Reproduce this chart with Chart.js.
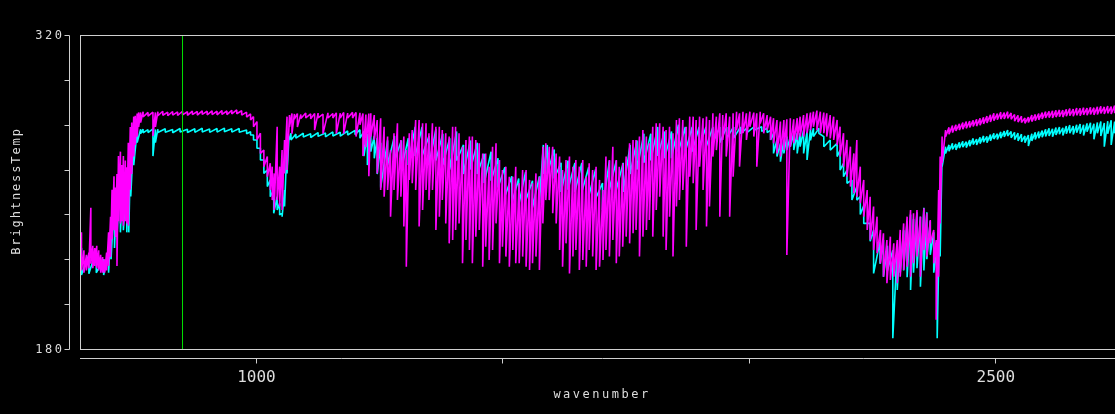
<!DOCTYPE html>
<html><head><meta charset="utf-8">
<script src="https://cdn.jsdelivr.net/npm/chart.js@4.4.1/dist/chart.umd.min.js"></script>
<style>
html,body{margin:0;padding:0;background:#000;overflow:hidden;width:1115px;height:414px}
#wrap{width:1125px;height:414px}
canvas{display:block}
</style></head><body>
<div id="wrap"><canvas id="c" width="1125" height="414"></canvas></div>
<script>
// ---- labels / ticks ----
const xTitle = 'wavenumber';
const yTitle = 'BrightnessTemp';
const yTicks = [180, 200, 220, 240, 260, 280, 300, 320];
const yTickLabels = ['180', '', '', '', '', '', '', '320'];
const xTicks = [1000, 1500, 2000, 2500];
const xTickLabels = ['1000', '', '', '2500'];
const xRange = [642, 2760];
const yRange = [180, 320];
const markerWn = [850, 850];
const markerT = [180, 320];

// ---- magenta spectrum: wavenumber, upper and lower envelope per bin ----
const magWn = [
 645,650,655,660,664,668,672,676,680,684,688,692,696,
 700,704,707,711,714,717,720,724,727,730,734,737,740,744,747,751,754,758,761,765,
 770,780,790,795,800,810,820,830,840,850,860,870,880,890,900,910,920,930,940,950,960,970,980,
 988,994,1001,1008,1015,1022,1028,1032,1036,1042,1047,1052,1057,1062,1067,
 1072,1077,1083,1090,1100,1110,1118,1125,1135,1145,1155,1162,1170,1177,1185,1195,1202,1210,1216,1222,1228,
 1232,1239,1245,1252,1259,1266,1272,1279,1286,1293,1299,1304,
 1310,1316,1323,1330,1337,1344,1350,1357,1364,1371,1377,1384,
 1391,1398,1404,1411,1418,1425,1432,1438,1445,1452,1459,1465,
 1472,1479,1486,1493,1499,1506,1513,1520,1526,1533,1540,1547,
 1554,1560,1567,1574,1581,1587,1594,1601,1608,1615,1621,1628,
 1635,1642,1648,1655,1662,1669,1675,1682,1689,1696,1703,1709,
 1716,1723,1730,1736,1743,1750,1757,1764,1770,1777,1784,1791,
 1797,1804,1811,1818,1825,1831,1838,1845,1852,1858,1865,1872,
 1879,1886,1892,1899,1906,1913,1919,1926,1933,1940,1946,1953,
 1960,1967,1974,1980,1987,1994,2001,
 2009,2015,2022,2029,2036,2043,2049,2056,2063,2070,2076,2083,
 2090,2097,2103,2110,2117,2124,2130,2137,2144,2151,2157,2164,
 2171,2178,2184,2191,2198,2205,2212,2218,2225,2232,2239,2245,
 2252,2259,2266,2272,2279,2286,2293,2300,2306,2313,2320,2327,
 2333,2340,2347,2354,2360,2367,2374,2379,2384,2387,2391,2398,
 2405,2412,2419,2426,2433,2440,2447,2454,2461,2468,2475,2482,
 2489,2496,2503,2510,2517,2524,2531,2538,2545,2552,2559,2566,
 2573,2580,2587,2594,2601,2608,2615,2622,2629,2636,2643,2650,
 2657,2664,2671,2678,2685,2692,2699,2706,2713,2720,2727,2734,
 2741,2748,2755,2760
];
const magHi = [
 232,224,222,223,243,226,225,226,224,222,221,220,223,
 232,239,251,257,252,258,266,268,262,266,264,261,272,279,281,283.6,284,285,285.5,285.5,
 285.8,285.5,285.6,285.5,285.8,286.0,285.6,285.9,285.7,286.0,285.8,286.1,285.9,286.2,286.0,286.2,286.0,286.3,286.1,286.4,286.6,286.2,285.6,
 284.8,283.6,281.4,276.2,268.7,265.8,262.8,261.3,258.3,279.1,261.3,268.7,273.2,283.6,284.3,
 285.0,284.8,285.0,284.6,285.2,284.8,285.0,285.2,284.7,285.3,285.0,285.3,285.1,285.5,285.2,285.5,285.5,285.3,285.0,284.5,285.0,
 285.1,284.3,282.1,282.9,279.1,274.7,268.7,276.2,280.6,273.2,274.7,268.7,
 276.2,277.6,282.1,282.1,280.6,280.6,276.2,280.6,279.1,279.1,277.6,276.2,
 274.7,279.1,279.1,276.2,270.2,273.2,274.7,274.7,273.2,271.7,267.2,267.2,
 261.3,270.2,271.7,264.3,259.8,261.3,256.8,256.8,261.3,253.9,259.8,259.8,
 255.4,253.9,258.3,256.8,270.2,271.7,270.2,270.2,267.2,265.8,259.8,264.3,
 265.8,261.3,264.3,261.3,264.3,256.8,262.8,259.8,261.3,255.4,250.9,265.8,
 264.3,270.2,264.3,261.3,262.8,265.8,271.7,273.2,273.2,274.7,277.6,274.7,
 271.7,279.1,280.6,280.6,279.1,277.6,279.1,276.2,282.1,282.9,282.1,279.1,
 283.6,283.6,282.1,283.6,282.9,283.6,282.1,285.1,283.6,285.1,284.3,285.1,
 283.6,285.1,285.8,285.1,285.8,285.1,285.8,
 285.4,285.1,285.8,285.1,284.3,283.6,282.9,282.1,281.4,282.1,282.4,282.9,
 282.4,282.9,283.6,284.3,285.1,285.4,285.8,286.3,285.8,285.4,285.1,284.3,
 283.6,282.1,279.1,276.2,273.2,270.2,267.2,273.2,261.3,255.4,250.9,247.9,
 243.5,239.0,233.1,231.6,228.6,230.1,227.1,228.6,233.1,236.0,239.0,242.0,
 240.5,242.0,239.0,242.7,240.5,237.5,233.1,228.6,250.9,265.8,274.7,277.6,
 278.8,279.6,280.0,280.4,281.0,281.4,281.6,282.0,282.4,282.9,283.3,283.8,
 284.4,285.1,285.0,285.6,285.4,285.8,285.2,284.6,284.2,283.8,283.0,283.4,
 284.3,284.6,285.0,285.4,285.8,286.0,286.2,286.4,286.6,286.5,286.9,287.2,
 287.0,287.4,287.3,287.6,287.4,287.8,287.6,288.0,288.2,287.9,288.3,288.1,
 288.5,288.3,288.6,288.4
];
const magLo = [
 215,214,215,216,218,216,217,216,215,214,214,214,215,
 217,221,229,233,230,217,237,236,237,235,237,236,235,251,258,265.8,271,274.7,279,281,
 283.5,283.8,275,279,284,284.2,284.0,284.3,284.1,284.4,284.2,284.5,284.3,284.6,284.4,284.5,284.4,284.6,284.5,284.8,284.9,284.3,283.4,
 282.1,279.1,273.2,267.2,261.3,256.8,250.9,246.4,242.0,246.4,243.5,242.0,258.3,259.8,279.1,
 276.0,282.5,279.0,282.8,283.0,282.6,277.6,283.0,276.0,283.0,283.0,276.0,283.0,276.0,283.0,283.0,274.7,280.0,266.0,270.0,257.0,
 274.7,273.2,258.3,250.9,247.9,250.9,239.0,250.9,246.4,247.9,234.6,216.7,
 255.4,253.9,250.9,234.6,242.0,250.9,246.4,250.9,233.1,239.0,246.4,236.0,
 227.1,228.6,233.1,236.0,218.2,228.6,224.1,218.2,230.1,233.1,216.7,225.6,
 219.7,224.1,236.0,218.2,225.6,221.2,216.7,224.1,218.2,218.2,221.2,216.7,
 215.2,218.2,221.2,215.2,236.0,246.4,246.4,240.5,236.0,224.1,216.7,227.1,
 213.7,221.2,224.1,215.2,219.7,216.7,224.1,221.2,215.2,216.7,219.7,224.1,
 221.2,228.6,218.2,221.2,225.6,230.1,227.1,231.6,233.1,221.2,230.1,233.1,
 237.5,230.1,242.0,247.9,230.1,224.1,239.0,221.2,243.5,246.4,250.9,225.6,
 256.8,253.9,233.1,261.3,250.9,234.6,243.5,265.8,268.7,239.0,273.2,265.8,
 239.0,256.8,277.6,261.3,276.2,273.2,279.1,
 274.7,261.3,280.6,276.2,277.6,273.2,271.7,267.2,265.8,268.7,221.9,270.2,
 271.7,273.2,274.7,274.7,276.2,277.6,279.1,277.6,276.2,276.2,274.7,273.9,
 273.2,271.0,265.8,261.3,256.8,252.4,249.4,247.9,245.0,239.0,233.1,228.6,
 224.1,222.7,218.2,212.2,209.3,210.8,212.2,209.3,212.2,215.2,216.7,212.2,
 218.2,221.2,212.2,224.1,221.2,227.1,218.2,193.0,212.2,236.0,263.0,274.7,
 275.8,276.5,277.2,277.6,278.0,278.4,278.8,279.2,279.4,279.8,280.4,280.8,
 281.2,281.8,282.2,282.5,282.6,282.8,282.4,281.6,281.2,281.0,280.6,281.0,
 281.4,281.8,282.2,282.6,283.0,283.2,283.0,283.4,283.6,283.4,283.8,284.0,
 283.8,284.2,284.0,284.4,284.2,284.6,284.4,284.6,285.0,284.8,285.1,284.8,
 285.2,285.0,285.3,285.0
];

// ---- cyan spectrum ----
const cyWn = [
 645,660,675,690,700,705,712,717,724,730,737,741,745,751,758,765,
 770,780,790,795,800,815,830,845,860,875,890,905,920,935,950,965,980,
 988,994,1001,1008,1015,1022,1028,1035,1042,1047,1052,1057,1062,1066,1070,
 1080,1095,1110,1125,1140,1155,1170,1185,1200,1210,1218,1225,1232,1239,1245,1252,
 1266,1280,1294,1308,1322,1336,1350,1364,1378,1392,1406,1420,
 1434,1448,1462,1476,1490,1504,1518,1532,1546,1560,1574,1582,
 1590,1604,1618,1632,1646,1660,1674,1688,1702,1716,1730,1744,
 1758,1772,1786,1800,1814,1828,1842,1856,1870,1884,1898,1912,
 1926,1940,1954,1968,1982,1995,
 2010,2025,2036,2043,2049,2056,2063,2070,2076,2083,2090,2097,
 2103,2110,2117,2124,2130,2141,2151,2164,2178,2184,2191,2198,
 2208,2218,2225,2232,2245,2252,2265,2272,2280,2291,2300,2306,
 2313,2320,2327,2333,2340,2347,2354,2360,2367,2374,2381,2387,2391,
 2398,2405,2412,2419,2426,2433,2440,2447,2454,2461,2468,2475,
 2482,2489,2496,2503,2510,2517,2524,2531,2538,2545,2552,2559,
 2566,2573,2580,2587,2594,2601,2608,2615,2622,2629,2636,2643,
 2650,2657,2664,2671,2678,2685,2692,2699,2706,2713,2720,2727,
 2734,2741,2748,2755,2760
];
const cyHi = [
 225,222,224,220,224,236,250,255,262,262,258,266,273,276,277.5,278,
 278.0,277.8,278.1,277.9,278.0,278.2,277.9,278.3,278.0,278.2,278.4,278.1,278.3,278.5,278.2,278.3,277.6,
 276.9,275.4,273.2,269.5,264.3,259.8,255.4,250.9,247.9,245.0,240.5,250.9,271.7,274.7,276.2,
 275.8,276.2,276.0,276.5,276.3,276.8,276.6,277.2,277.5,277.8,277.0,276.0,276.5,275.0,274.0,272.0,
 273,275,273,274,279,279,275,278,276,274,277,271,
 273,272,267,268,265,261,257,256,259,255,257,271,
 271,269,263,264,263,263,261,260,254,264,264,263,
 271,273,276,276,279,277,277,280,279,279,279,279,
 279,279,279,279,279,278.5,
 279.1,279.1,278.5,277.6,276.2,273.2,271.7,273.2,274.7,274.7,276.2,276.2,
 276.2,277.6,276.9,278.0,278.4,278.4,274.7,273.2,271.7,268.7,262.8,259.8,
 255.4,252.4,248.0,244.0,236.0,233.1,228.0,228.6,226.0,224.0,226.0,229.0,
 233.0,237.0,240.0,238.0,241.0,239.0,243.0,241.0,237.0,232.0,225.0,250.9,267.2,
 270.2,271.0,271.7,271.4,272.2,272.6,272.4,273.2,273.9,273.6,274.4,275.0,
 274.8,275.6,276.2,276.0,276.8,277.2,277.6,277.0,276.6,276.2,275.8,275.0,
 275.4,276.0,276.6,277.0,277.4,278.0,278.4,278.2,278.8,279.0,278.6,279.4,
 279.8,279.4,280.0,280.3,280.0,280.6,280.9,280.4,281.0,281.4,280.8,281.6,
 282.0,281.4,282.0,281.6,282.0
];
const cyLo = [
 213,213.5,214,213,214,220,225,230,232,233,232,232,248,262,272,276,
 276.4,276.5,266.0,272.0,276.5,276.6,276.4,276.7,276.5,276.6,276.8,276.6,276.7,276.9,276.7,276.6,276.0,
 275.4,273.2,269.5,264.3,258.3,252.4,247.9,240.5,242.0,239.8,239.0,243.5,258.3,273.2,273.2,
 274.0,274.5,274.3,274.8,274.6,275.0,274.9,275.4,275.6,274.0,266.0,262.0,268.0,265.0,258.0,252.0,
 262,264,260,262,266,266,262,264,262,260,264,258,
 260,258,254,255,252,248,245,244,246,243,245,258,
 258,256,250,251,250,250,248,247,242,251,251,250,
 258,260,263,264,266,265,265,268,268,268,270,270,
 272,272,274,274,276,276.5,
 277.6,277.0,276.5,273.2,267.2,265.8,263.5,267.2,268.7,270.2,268.7,267.2,
 270.2,267.2,264.3,273.0,274.7,276.2,270.2,268.7,265.8,259.8,256.8,253.9,
 246.4,246.4,240.0,236.0,228.0,213.7,218.0,212.2,215.0,184.8,206.3,214.0,
 215.0,212.0,206.3,214.0,216.0,207.8,215.0,220.0,222.0,214.0,184.8,221.2,261.3,
 267.2,268.2,269.0,268.8,269.6,270.0,269.8,270.4,271.2,271.0,271.6,272.2,
 272.0,272.8,273.6,273.4,274.0,274.6,275.0,274.2,273.4,272.8,272.4,272.0,
 270.5,272.8,273.4,274.0,274.4,274.8,275.0,274.6,275.4,275.8,275.2,276.0,
 276.2,275.6,276.4,276.0,275.2,276.9,276.0,273.5,276.2,275.0,270.2,276.0,
 271.0,276.2,274.0,275.5,276.0
];

// ---- build point lists for the library (each bin: upper then lower) ----
function envelopePoints(wn, hi, lo) {
  const pts = [];
  for (let i = 0; i < wn.length; i++) {
    pts.push({ x: wn[i], y: hi[i] });
    pts.push({ x: wn[i], y: lo[i] });
  }
  return pts;
}
const markerPts = markerWn.map((w, i) => ({ x: w, y: markerT[i] }));

const AXIS = '#cfcfcf';
const TEXT = '#dedede';
const MONO = '"DejaVu Sans Mono", "Liberation Mono", monospace';

const axesPlugin = {
  id: 'oldAxes',
  beforeDraw(chart) {
    const c = chart.ctx;
    c.save(); c.fillStyle = '#000'; c.fillRect(0, 0, chart.width, chart.height); c.restore();
  },
  afterDraw(chart) {
    const { ctx, chartArea: a, scales } = chart;
    const xs = scales.x, ys = scales.y;
    ctx.save();
    ctx.strokeStyle = AXIS; ctx.lineWidth = 1;
    const L = Math.round(a.left), T = Math.round(a.top), R = Math.round(a.right), B = Math.round(a.bottom);
    // frame
    ctx.strokeRect(L + 0.5, T + 0.5, R - L, B - T);
    // y axis (detached, to the left)
    const ax = L - 11 + 0.5;
    const yTop = Math.round(ys.getPixelForValue(yTicks[yTicks.length - 1])) + 0.5;
    const yBot = Math.round(ys.getPixelForValue(yTicks[0])) + 0.5;
    ctx.beginPath(); ctx.moveTo(ax, yTop); ctx.lineTo(ax, yBot); ctx.stroke();
    yTicks.forEach(v => {
      const py = Math.round(ys.getPixelForValue(v)) + 0.5;
      ctx.beginPath(); ctx.moveTo(ax - 5, py); ctx.lineTo(ax, py); ctx.stroke();
    });
    // x axis (detached, below)
    const ay = B + 9 + 0.5;
    ctx.beginPath(); ctx.moveTo(L, ay); ctx.lineTo(chart.width, ay); ctx.stroke();
    xTicks.forEach(v => {
      const px = Math.floor(xs.getPixelForValue(v)) + 0.5;
      ctx.beginPath(); ctx.moveTo(px, ay); ctx.lineTo(px, ay + 5); ctx.stroke();
    });
    // tick labels
    ctx.fillStyle = TEXT;
    ctx.font = '12px ' + MONO;
    if ('letterSpacing' in ctx) ctx.letterSpacing = '2.5px';
    ctx.textAlign = 'right'; ctx.textBaseline = 'middle';
    yTicks.forEach((v, i) => {
      if (!yTickLabels[i]) return;
      ctx.fillText(yTickLabels[i], ax - 5, ys.getPixelForValue(v) + 1);
    });
    if ('letterSpacing' in ctx) ctx.letterSpacing = '0px';
    ctx.font = '16px ' + MONO;
    ctx.textAlign = 'center'; ctx.textBaseline = 'alphabetic';
    xTicks.forEach((v, i) => {
      if (!xTickLabels[i]) return;
      ctx.fillText(xTickLabels[i], xs.getPixelForValue(v), ay + 23);
    });
    // axis titles
    ctx.font = '12px ' + MONO;
    if ('letterSpacing' in ctx) ctx.letterSpacing = '2.5px';
    ctx.textAlign = 'center';
    ctx.fillText(xTitle, (L + R) / 2, 398);
    if ('letterSpacing' in ctx) ctx.letterSpacing = '1.9px';
    ctx.translate(20, (T + B) / 2 - 1);
    ctx.rotate(-Math.PI / 2);
    ctx.fillText(yTitle, 0, 0);
    ctx.restore();
  }
};

new Chart(document.getElementById('c'), {
  type: 'line',
  data: {
    datasets: [
      { label: 'marker', data: markerPts, borderColor: '#00e000', borderWidth: 1, pointRadius: 0 },
      { label: 'spectrum 1', data: envelopePoints(magWn, magHi, magLo), borderColor: '#ff00ff', borderWidth: 1.6, pointRadius: 0, borderJoinStyle: 'bevel' },
      { label: 'spectrum 2', data: envelopePoints(cyWn, cyHi, cyLo), borderColor: '#00ffff', borderWidth: 1.6, pointRadius: 0, borderJoinStyle: 'bevel' }
    ]
  },
  options: {
    responsive: false,
    animation: false,
    devicePixelRatio: 1,
    parsing: false,
    layout: { padding: { left: 80, top: 35, right: 1, bottom: 65 } },
    elements: { line: { tension: 0, fill: false } },
    scales: {
      x: { type: 'linear', min: xRange[0], max: xRange[1], display: false },
      y: { type: 'linear', min: yRange[0], max: yRange[1], display: false }
    },
    plugins: { legend: { display: false }, tooltip: { enabled: false } }
  },
  plugins: [axesPlugin]
});
</script>
</body></html>
